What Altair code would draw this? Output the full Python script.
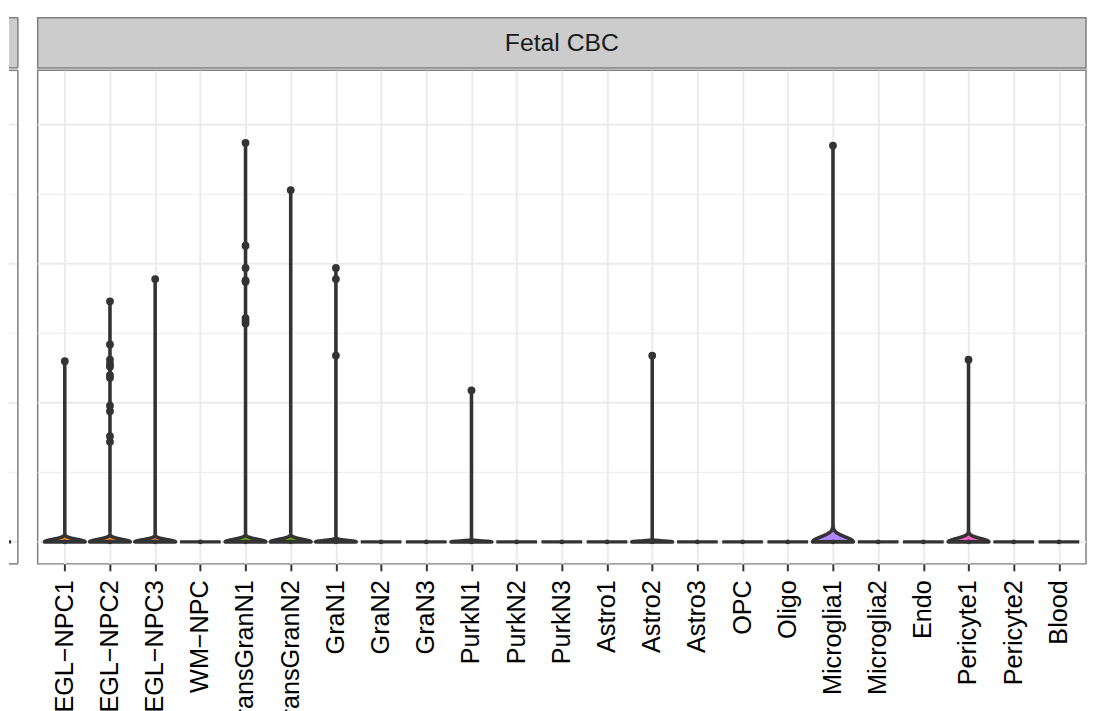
import altair as alt
import numpy as np
import pandas as pd

# ---------------- data ----------------
categories = ["EGL−NPC1", "EGL−NPC2", "EGL−NPC3", "WM−NPC", "TransGranN1", "TransGranN2",
              "GraN1", "GraN2", "GraN3", "PurkN1", "PurkN2", "PurkN3", "Astro1", "Astro2",
              "Astro3", "OPC", "Oligo", "Microglia1", "Microglia2", "Endo", "Pericyte1",
              "Pericyte2", "Blood"]
fills = ["#E88526", "#E88526", "#E88526", "#D39200", "#5EB300", "#5EB300",
         "#00BF74", "#00BF74", "#00BF74", "#00C19F", "#00C19F", "#00C19F",
         "#00B9E3", "#00B9E3", "#00B9E3", "#00ADFA", "#619CFF", "#AE87FF",
         "#AE87FF", "#DB72FB", "#FF61C3", "#FF61C3", "#F8766D"]
# expressing cells (values > 0) per category
positive = [
    [1.30],
    [1.73, 1.42, 1.31, 1.28, 1.26, 1.20, 1.18, 0.98, 0.94, 0.76, 0.72],
    [1.89],
    [],
    [2.87, 2.13, 1.97, 1.88, 1.87, 1.61, 1.59, 1.57],
    [2.53],
    [1.97, 1.89, 1.34],
    [], [],
    [1.09],
    [], [], [],
    [1.34],
    [], [], [],
    [2.85],
    [], [],
    [1.31],
    [], [],
]
# kernel bandwidth of each violin (estimated from the height of its base)
bandwidth = [0.018, 0.018, 0.016, 0, 0.018, 0.018, 0.010, 0, 0, 0.006, 0, 0, 0,
             0.006, 0, 0, 0, 0.036, 0, 0, 0.024, 0, 0]
zero_cells = 300
strip_labels = ["Fetal CBC"]
major_y = [0, 1, 2, 3]
minor_y = [0.5, 1.5, 2.5]
left_panel_baseline = [0]

# ---------------- derived tables ----------------
violin_rows = []
flat_rows = []
point_rows = []
for i, cat in enumerate(categories):
    vals = positive[i]
    point_rows.append({"idx": i, "value": 0.0, "kind": "zero"})
    for v in vals:
        point_rows.append({"idx": i, "value": v, "kind": "pos"})
    if not vals:
        flat_rows.append({"idx": i, "xl": i - 0.45, "xr": i + 0.45, "value": 0.0})
        continue
    pts = np.concatenate([np.zeros(zero_cells), np.array(vals)])
    top = max(vals)
    ys = np.unique(np.concatenate([np.linspace(0, 0.25, 250), np.linspace(0, top, 700)]))
    b = bandwidth[i]
    dens = np.exp(-0.5 * ((ys[:, None] - pts[None, :]) / b) ** 2).sum(axis=1)
    half = 0.45 * dens / dens.max()
    for y, h in zip(ys, half):
        violin_rows.append({"cat": cat, "idx": i, "value": float(y),
                            "xl": i - float(h), "xr": i + float(h), "fill": fills[i]})

violin_df = pd.DataFrame(violin_rows)
flat_df = pd.DataFrame(flat_rows)
points_df = pd.DataFrame(point_rows)
labels_df = pd.DataFrame({"idx": list(range(len(categories))), "label": categories})
major_df = pd.DataFrame({"value": major_y})
minor_df = pd.DataFrame({"value": minor_y})
strip_df = pd.DataFrame({"label": strip_labels})

PW, PH, SH = 1060, 499, 51.5
LABH = 150
FONT = "Liberation Sans"
GRID = "#EBEBEB"
BORDER = "#7F7F7F"
DARK = "#333333"

xscale = alt.Scale(domain=[-0.6, len(categories) - 0.4], nice=False, zero=False)
yscale = alt.Scale(domain=[-0.158, 3.391], nice=False, zero=False)

xaxis = alt.Axis(values=list(range(len(categories))), labels=False, title=None,
                 grid=True, gridColor=GRID, gridWidth=2, domain=False,
                 ticks=True, tickColor=DARK, tickWidth=2, tickSize=7)

# ---------------- main panel ----------------
minor_grid = alt.Chart(minor_df).mark_rule(color=GRID, strokeWidth=1).encode(
    y=alt.Y("value:Q", scale=yscale, axis=None))
major_grid = alt.Chart(major_df).mark_rule(color=GRID, strokeWidth=2).encode(
    y=alt.Y("value:Q", scale=yscale, axis=None))

violins = alt.Chart(violin_df).mark_area(orient="horizontal", stroke=DARK, strokeWidth=3.6,
                                         strokeJoin="round").encode(
    x=alt.X("xl:Q", scale=xscale, axis=xaxis),
    x2="xr:Q",
    y=alt.Y("value:Q", scale=yscale, axis=None),
    fill=alt.Fill("fill:N", scale=None),
    detail="cat:N",
)

flats = alt.Chart(flat_df).mark_rule(color=DARK, strokeWidth=3.4).encode(
    x=alt.X("xl:Q", scale=xscale, axis=xaxis),
    x2="xr:Q",
    y=alt.Y("value:Q", scale=yscale, axis=None),
)

pos_points = alt.Chart(points_df).transform_filter("datum.kind == 'pos'").mark_circle(
    size=62, color=DARK, opacity=1).encode(
    x=alt.X("idx:Q", scale=xscale, axis=xaxis),
    y=alt.Y("value:Q", scale=yscale, axis=None),
)
zero_points = alt.Chart(points_df).transform_filter("datum.kind == 'zero'").mark_circle(
    size=24, color=DARK, opacity=1).encode(
    x=alt.X("idx:Q", scale=xscale, axis=xaxis),
    y=alt.Y("value:Q", scale=yscale, axis=None),
)

main_panel = alt.layer(minor_grid, major_grid, violins, flats, zero_points, pos_points).properties(
    width=PW, height=PH,
    view=alt.ViewBackground(stroke=BORDER, strokeWidth=1.5, fill="white"))

# tick labels (the reference picture cuts them at its bottom edge)
tick_labels = alt.Chart(labels_df).mark_text(
    angle=270, align="right", baseline="middle", fontSize=25.5, font=FONT,
    color="#000000").encode(
    x=alt.X("idx:Q", scale=xscale, axis=None),
    y=alt.value(7.5),
    text="label:N",
).properties(width=PW, height=LABH, view=alt.ViewBackground(stroke=None))

strip_rect = alt.Chart(strip_df).mark_rect(fill="#CCCCCC", stroke=BORDER, strokeWidth=1.5).encode(
    x=alt.value(0), x2=alt.value(PW), y=alt.value(0.75), y2=alt.value(SH))
strip_text = alt.Chart(strip_df).mark_text(fontSize=25, font=FONT, color="#1A1A1A",
                                           baseline="middle", align="center").encode(
    x=alt.value(PW / 2), y=alt.value(26), text="label:N")
main_strip = alt.layer(strip_rect, strip_text).properties(
    width=PW, height=SH, view=alt.ViewBackground(stroke=None))

right_col = alt.vconcat(main_strip, main_panel, tick_labels, spacing=0)

# ---------------- left (cut-off) panel ----------------
LW = 9
lscale = alt.Scale(domain=[0.6 - LW / (PW / 23.2), 0.6], nice=False, zero=False)
one = pd.DataFrame({"k": [0]})

l_strip_fill = alt.Chart(one).mark_rect(fill="#CCCCCC").encode(
    x=alt.value(0), x2=alt.value(LW), y=alt.value(0.75), y2=alt.value(SH))
l_strip_top = alt.Chart(one).mark_rule(color=BORDER, strokeWidth=1.5).encode(
    x=alt.value(0), x2=alt.value(LW), y=alt.value(0.75))
l_strip_bot = alt.Chart(one).mark_rule(color=BORDER, strokeWidth=1.5).encode(
    x=alt.value(0), x2=alt.value(LW), y=alt.value(SH))
l_strip_right = alt.Chart(one).mark_rule(color=BORDER, strokeWidth=1.5).encode(
    x=alt.value(LW), y=alt.value(0.75), y2=alt.value(SH))
left_strip = alt.layer(l_strip_fill, l_strip_top, l_strip_bot, l_strip_right).properties(
    width=LW, height=SH, view=alt.ViewBackground(stroke=None))

l_minor = alt.Chart(minor_df).mark_rule(color=GRID, strokeWidth=1).encode(
    y=alt.Y("value:Q", scale=yscale, axis=None), x=alt.value(0), x2=alt.value(LW))
l_major = alt.Chart(major_df).mark_rule(color=GRID, strokeWidth=2).encode(
    y=alt.Y("value:Q", scale=yscale, axis=None), x=alt.value(0), x2=alt.value(LW))
l_flat = alt.Chart(pd.DataFrame({"value": left_panel_baseline})).transform_calculate(
    xl="-0.45", xr="0.45").mark_rule(color=DARK, strokeWidth=3.4, clip=True).encode(
    x=alt.X("xl:Q", scale=lscale, axis=None), x2="xr:Q",
    y=alt.Y("value:Q", scale=yscale, axis=None))
l_top = alt.Chart(one).mark_rule(color=BORDER, strokeWidth=1.5).encode(
    x=alt.value(0), x2=alt.value(LW), y=alt.value(0))
l_bot = alt.Chart(one).mark_rule(color=BORDER, strokeWidth=1.5).encode(
    x=alt.value(0), x2=alt.value(LW), y=alt.value(PH))
l_right = alt.Chart(one).mark_rule(color=BORDER, strokeWidth=1.5).encode(
    x=alt.value(LW), y=alt.value(0), y2=alt.value(PH))
left_panel = alt.layer(l_minor, l_major, l_flat, l_top, l_bot, l_right).properties(
    width=LW, height=PH, view=alt.ViewBackground(stroke=None))

left_col = alt.vconcat(left_strip, left_panel, spacing=0)

chart = alt.hconcat(left_col, right_col, spacing=17).configure(
    padding={"left": 0, "top": 5, "right": 0, "bottom": 0},
    font=FONT, background="white",
).configure_view(stroke=None)

chart.save("out.html", embed_options={"renderer": "svg", "actions": False})
